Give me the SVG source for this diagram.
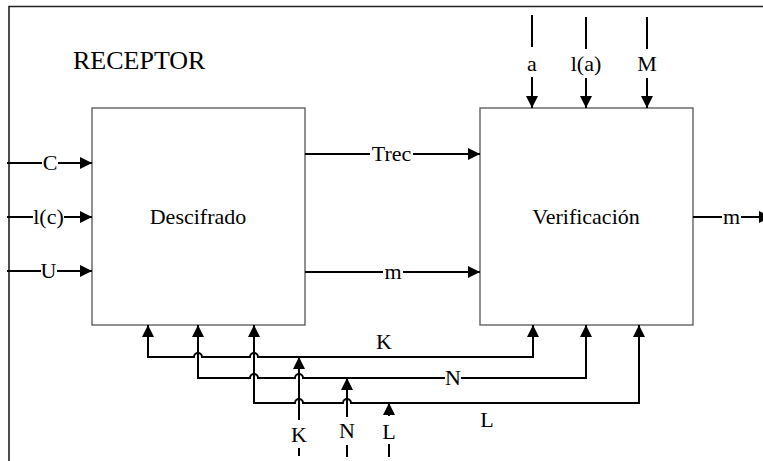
<svg xmlns="http://www.w3.org/2000/svg" width="763" height="461" viewBox="0 0 763 461">
<style>
.frame{fill:none;stroke:#222;stroke-width:1.6}
.box{fill:#fff;stroke:#555;stroke-width:1.3}
.c{fill:none;stroke:#000;stroke-width:2}
.a{marker-end:url(#ah)}
.t{font-family:"Liberation Serif","Times New Roman",serif;font-size:22px;fill:#000}
.m{text-anchor:middle}
</style>
<defs>
<marker id="ah" markerUnits="userSpaceOnUse" markerWidth="13" markerHeight="13" refX="12" refY="6" orient="auto-start-reverse">
<path d="M0,0 L12,6 L0,12 z" fill="#000"/>
</marker>
</defs>
<g id="frame">
<path class="frame" d="M9,461 V6.5 H763"/>
<text class="t" x="73" y="69" style="font-size:26px">RECEPTOR</text>
</g>
<g id="descifrado">
<rect class="box" x="92" y="108" width="213" height="217"/>
<text class="t m" x="198" y="224">Descifrado</text>
</g>
<g id="verificacion">
<rect class="box" x="480" y="108" width="213" height="217"/>
<text class="t m" x="586" y="224">Verificación</text>
</g>
<g id="connectors">
<path class="c a" d="M7,163 H42 M58,163 H92"/>
<path class="c a" d="M7,217 H33 M64,217 H92"/>
<path class="c a" d="M7,271 H41 M57,271 H92"/>
<path class="c a" d="M305,154 H370 M413,154 H480"/>
<path class="c a" d="M305,272 H383 M403,272 H480"/>
<path class="c a" d="M693,217 H722 M741,217 H771"/>
<path class="c a" d="M532,15 V47 M532,77 V108"/>
<path class="c a" d="M586,17 V49 M586,78 V108"/>
<path class="c a" d="M647,17 V49 M647,78 V108"/>
<path class="c a" style="marker-start:url(#ah)" d="M148,325 V357 H194 a4,4 0 0 1 8,0 H250 a4,4 0 0 1 8,0 H533 V325"/>
<path class="c a" style="marker-start:url(#ah)" d="M198,325 V378 H250 a4,4 0 0 1 8,0 H295 a4,4 0 0 1 8,0 H445 M461,378 H586 V325"/>
<path class="c a" style="marker-start:url(#ah)" d="M254,325 V403 H295 a4,4 0 0 1 8,0 H343 a4,4 0 0 1 8,0 H639 V325"/>
<path class="c a" d="M299,456 V448 M299,420 V357"/>
<path class="c a" d="M347,457 V445 M347,417 V378"/>
<path class="c a" d="M389,457 V444 M389,416 V403"/>
</g>
<g id="labels">
<text class="t m" x="50" y="170">C</text>
<text class="t m" x="48.5" y="224">l(c)</text>
<text class="t m" x="48.5" y="278">U</text>
<text class="t m" x="391.5" y="161">Trec</text>
<text class="t m" x="393" y="279">m</text>
<text class="t m" x="731.5" y="224">m</text>
<text class="t m" x="532" y="71">a</text>
<text class="t m" x="586" y="71">l(a)</text>
<text class="t m" x="647" y="71">M</text>
<text class="t m" x="384" y="349">K</text>
<text class="t m" x="453" y="385">N</text>
<text class="t m" x="487" y="427">L</text>
<text class="t m" x="299" y="442">K</text>
<text class="t m" x="347" y="438">N</text>
<text class="t m" x="389" y="439">L</text>
</g>
</svg>
